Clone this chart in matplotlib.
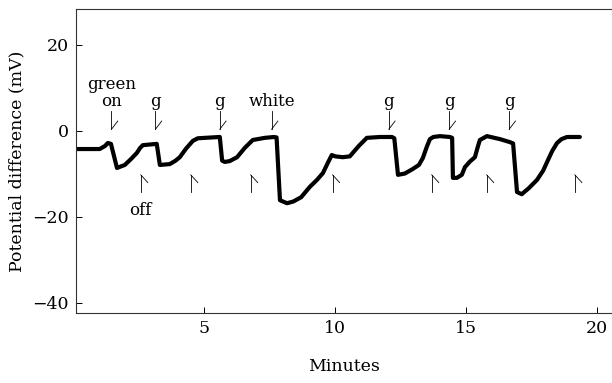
import matplotlib.pyplot as plt
import numpy as np

# trace (minutes, mV)
minutes = [0.13, 1.0, 1.2, 1.31, 1.43, 1.66, 1.96, 2.2, 2.42, 2.55, 2.65, 3.18, 3.3, 3.68,
           3.9, 4.06, 4.3, 4.56, 4.75, 5.02, 5.59, 5.68, 5.78, 5.97, 6.25, 6.55, 6.85, 7.31,
           7.66, 7.76, 7.89, 8.16, 8.4, 8.7, 9.03, 9.3, 9.53, 9.72, 9.87, 10.0, 10.29, 10.56,
           10.9, 11.21, 11.71, 12.17, 12.26, 12.4, 12.66, 12.95, 13.2, 13.35, 13.5, 13.62,
           13.75, 14.0, 14.38, 14.47, 14.5, 14.65, 14.84, 14.96, 15.15, 15.34, 15.45, 15.53,
           15.8, 16.3, 16.68, 16.8, 16.95, 17.13, 17.4, 17.71, 17.95, 18.13, 18.3, 18.48,
           18.65, 18.86, 19.35]
potential = [-4.3, -4.3, -3.6, -2.9, -3.1, -8.7, -8.0, -6.6, -5.2, -4.0, -3.4, -3.1, -8.0, -7.8,
             -7.0, -6.2, -4.2, -2.4, -1.8, -1.7, -1.5, -7.0, -7.3, -7.1, -6.2, -4.0, -2.2, -1.7,
             -1.5, -1.6, -16.2, -16.9, -16.5, -15.5, -13.1, -11.5, -9.9, -7.5, -5.7, -6.0, -6.2, -6.0,
             -3.6, -1.7, -1.5, -1.5, -1.8, -10.3, -10.0, -9.0, -8.0, -6.4, -3.8, -2.0,
             -1.5, -1.3, -1.5, -1.7, -11.0, -11.0, -10.3, -8.5, -7.2, -6.2, -3.8, -2.2,
             -1.3, -2.0, -2.7, -3.0, -14.3, -14.8, -13.4, -11.5, -9.3, -6.9, -4.7, -2.9,
             -2.0, -1.5, -1.5]

# stimulus markers
on_times = [1.45, 3.13, 5.59, 7.57, 12.05, 14.36, 16.65]
on_labels = ["green\non", "g", "g", "white", "g", "g", "g"]
off_times = [2.57, 4.48, 6.77, 9.9, 13.69, 15.79, 19.16]

fig = plt.figure(figsize=(6.12, 3.83), dpi=100)
ax = fig.add_axes([0.124, 0.183, 0.876, 0.794])

plt.rcParams['font.family'] = ['DejaVu Serif']

ax.plot(minutes, potential, color='black', lw=3.0, solid_capstyle='round', solid_joinstyle='round')

# "on" marks: vertical stroke with a tick up to the right at the tip
for t, lab in zip(on_times, on_labels):
    ax.plot([t, t], [4.6, 0.3], color='black', lw=0.6)
    ax.plot([t, t + 0.24], [0.3, 2.2], color='black', lw=0.6)
    ax.text(t, 5.6, lab, ha='center', va='baseline', fontsize=12,
            family='DejaVu Serif', linespacing=1.05)

# "off" marks: vertical stroke with a tick down to the right at the top
for t in off_times:
    ax.plot([t, t], [-10.3, -14.2], color='black', lw=0.6)
    ax.plot([t, t + 0.27], [-10.3, -12.1], color='black', lw=0.6)
ax.text(off_times[0], -18.5, "off", ha='center', va='center', fontsize=12, family='DejaVu Serif')

ax.set_xlim(0.09, 20.58)
ax.set_ylim(-42.4, 28.3)
ax.set_xticks([5, 10, 15, 20])
ax.set_yticks([20, 0, -20, -40])
ax.set_yticklabels(["20", "0", "\u221220", "\u221240"])
ax.tick_params(direction='in', length=4, width=0.7, labelsize=12.5, pad=5)
for lab in ax.get_xticklabels() + ax.get_yticklabels():
    lab.set_family('DejaVu Serif')
ax.spines['right'].set_visible(False)
for s in ['left', 'top', 'bottom']:
    ax.spines[s].set_linewidth(0.8)
    ax.spines[s].set_color('#333333')

ax.set_xlabel("Minutes", fontsize=12.5, family='DejaVu Serif', labelpad=15)
ax.set_ylabel("Potential difference (mV)", fontsize=12.5, family='DejaVu Serif', labelpad=5)

fig.savefig("out.png", dpi=100)
